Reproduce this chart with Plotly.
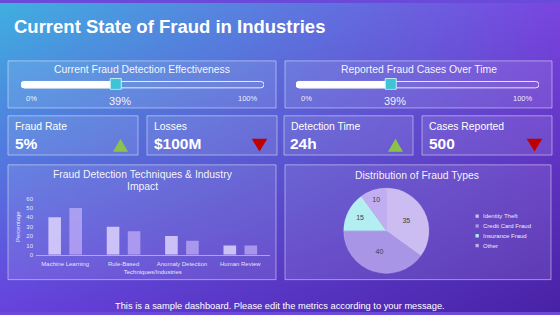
import numpy as np
import plotly.graph_objects as go
import zlib, struct, base64

W, H = 560, 315
FONT = "Liberation Sans, Arial, sans-serif"

# ---------------- data ----------------
title_text = "Current State of Fraud in Industries"
slider_titles = ["Current Fraud Detection Effectiveness", "Reported Fraud Cases Over Time"]
slider_values = [39, 39]
slider_min_label = "0%"
slider_max_label = "100%"
kpi_labels = ["Fraud Rate", "Losses", "Detection Time", "Cases Reported"]
kpi_values = ["5%", "$100M", "24h", "500"]
kpi_trends = ["up", "down", "up", "down"]
bar_title_lines = ["Fraud Detection Techniques & Industry", "Impact"]
bar_categories = ["Machine Learning", "Rule-Based", "Anomaly Detection", "Human Review"]
bar_series_1 = [40, 30, 20, 10]
bar_series_2 = [50, 25, 15, 10]
bar_yticks = [0, 10, 20, 30, 40, 50, 60]
bar_ytitle = "Percentage"
bar_xtitle = "Techniques/Industries"
pie_title = "Distribution of Fraud Types"
pie_labels = ["Identity Theft", "Credit Card Fraud", "Insurance Fraud", "Other"]
pie_values = [35, 40, 15, 10]
footer_text = "This is a sample dashboard. Please edit the metrics according to your message."

# ---------------- styles ----------------
pie_colors = ["#cbbcf2", "#a995e6", "#b3eef2", "#c0aef0"]
bar_color_1 = "rgba(232,222,255,0.78)"
bar_color_2 = "rgba(215,195,255,0.58)"
panel_fill = "rgba(255,255,255,0.10)"
panel_line = "rgba(255,255,255,0.45)"
up_color = "#8BC34A"
down_color = "#C00000"


def px(x):
    return x / W


def py(y):
    return 1 - y / H


# ---------------- background gradient (png data uri) ----------------
def make_png(arr):
    h, w, _ = arr.shape
    raw = np.concatenate([np.zeros((h, 1), np.uint8), arr.reshape(h, w * 3)], axis=1).tobytes()

    def chunk(tag, data):
        return struct.pack(">I", len(data)) + tag + data + struct.pack(">I", zlib.crc32(tag + data) & 0xFFFFFFFF)

    png = b"\x89PNG\r\n\x1a\n" + chunk(b"IHDR", struct.pack(">IIBBBBB", w, h, 8, 2, 0, 0, 0))
    png += chunk(b"IDAT", zlib.compress(raw, 9)) + chunk(b"IEND", b"")
    return "data:image/png;base64," + base64.b64encode(png).decode()


TL = np.array([63, 176, 224.0])
TR = np.array([122, 70, 224.0])
BL = np.array([104, 66, 222.0])
BR = np.array([72, 34, 166.0])
u = np.linspace(0, 1, W)[None, :, None]
v = np.linspace(0, 1, H)[:, None, None]
img = (1 - u) * (1 - v) * TL + u * (1 - v) * TR + (1 - u) * v * BL + u * v * BR
bg_uri = make_png(np.clip(img, 0, 255).astype(np.uint8))

fig = go.Figure()
shapes = []
annotations = []


def text(t, x, y, size, color="white", xanchor="center", xref="paper", xshift=0):
    annotations.append(dict(text=t, x=x, y=y, xref=xref, yref="paper", xanchor=xanchor, yanchor="middle",
                            xshift=xshift, showarrow=False, font=dict(size=size, color=color)))


# ---------------- panels ----------------
panels = [
    (8, 59, 276, 107), (285, 59, 552, 107),
    (8, 115, 138, 155), (147, 115, 277, 155), (284, 115, 413, 155), (422, 115, 552, 155),
    (8, 165, 276, 282), (285, 165, 551, 282),
]
for x0, y0, x1, y1 in panels:
    shapes.append(dict(type="rect", xref="paper", yref="paper", x0=px(x0), x1=px(x1), y0=py(y1), y1=py(y0),
                       fillcolor=panel_fill, line=dict(color=panel_line, width=1), layer="below"))

text("<b>" + title_text + "</b>", px(12), py(23.5), 18.5, xanchor="left")

# ---------------- sliders ----------------
tracks = [(21, 264), (296, 539)]
panel_centers = [142, 418.5]
track_top, track_bot = 80, 86.5
for i, (tx0, tx1) in enumerate(tracks):
    xa = "xaxis%d" % (3 + i)
    ya = "yaxis%d" % (3 + i)
    xr = "x%d" % (3 + i)
    yr = "y%d" % (3 + i)
    fig.update_layout(**{
        xa: dict(domain=[px(tx0), px(tx1)], range=[0, 100], visible=False, anchor=yr, fixedrange=True),
        ya: dict(domain=[py(88.5), py(76.5)], range=[-1, 1], visible=False, anchor=xr, fixedrange=True),
    })
    k = 100.0 / (tx1 - tx0)
    r = (track_bot - track_top) / 2 * k
    yt, yb, yc = py(track_top), py(track_bot), py((track_top + track_bot) / 2)
    outline = (f"M {r},{yt} L {100 - r},{yt} Q 100,{yt} 100,{yc} Q 100,{yb} {100 - r},{yb} "
               f"L {r},{yb} Q 0,{yb} 0,{yc} Q 0,{yt} {r},{yt} Z")
    shapes.append(dict(type="path", xref=xr, yref="paper", path=outline,
                       fillcolor="rgba(255,255,255,0.04)", line=dict(color="rgba(255,255,255,0.85)", width=1),
                       layer="below"))
    val = slider_values[i]
    fill = (f"M {r},{yt} L {val},{yt} L {val},{yb} L {r},{yb} Q 0,{yb} 0,{yc} Q 0,{yt} {r},{yt} Z")
    shapes.append(dict(type="path", xref=xr, yref="paper", path=fill,
                       fillcolor="white", line=dict(color="white", width=1), layer="below"))
    fig.add_trace(go.Scatter(x=[val], y=[0], xaxis=xr, yaxis=yr, mode="markers", showlegend=False,
                             hoverinfo="skip",
                             marker=dict(symbol="square", size=11, color="#3fc3d6",
                                         line=dict(color="rgba(210,245,250,0.9)", width=1))))
    col = "rgba(255,255,255,0.92)"
    text(f"{val}%", val, py(99.5), 11, col, xref=xr, xshift=4)
    text(slider_min_label, 0, py(97), 7.5, col, xref=xr, xshift=10)
    text(slider_max_label, 100, py(97), 7.5, col, xref=xr, xshift=-16)
    text(slider_titles[i], px(panel_centers[i]), py(68), 10.4, "rgba(255,255,255,0.95)")

# ---------------- KPI boxes ----------------
kpi_boxes = panels[2:6]
for i, (x0, y0, x1, y1) in enumerate(kpi_boxes):
    text(kpi_labels[i], px(x0 + 5), py(125.7), 10.4, xanchor="left")
    text("<b>" + kpi_values[i] + "</b>", px(x0 + 4.5), py(143), 15.5, xanchor="left")
    cx = x1 - 17.5
    if kpi_trends[i] == "up":
        path = f"M {px(cx)},{py(138.3)} L {px(cx + 7.5)},{py(151.7)} L {px(cx - 7.5)},{py(151.7)} Z"
        col = up_color
    else:
        path = f"M {px(cx - 7.8)},{py(138.5)} L {px(cx + 7.8)},{py(138.5)} L {px(cx)},{py(151.5)} Z"
        col = down_color
    shapes.append(dict(type="path", xref="paper", yref="paper", path=path, fillcolor=col,
                       line=dict(width=0), layer="above"))

# ---------------- bar chart ----------------
fig.add_trace(go.Bar(x=bar_categories, y=bar_series_1, marker=dict(color=bar_color_1, line=dict(width=0)),
                     showlegend=False, xaxis="x", yaxis="y"))
fig.add_trace(go.Bar(x=bar_categories, y=bar_series_2, marker=dict(color=bar_color_2, line=dict(width=0)),
                     showlegend=False, xaxis="x", yaxis="y"))
tick_font = dict(size=6, color="rgba(255,255,255,0.85)")
fig.update_layout(
    barmode="group", bargap=0.28, bargroupgap=0.4,
    xaxis=dict(domain=[px(36), px(269.5)], showgrid=False, showline=True, linecolor="rgba(225,210,255,0.6)",
               linewidth=1, ticks="", tickfont=tick_font, fixedrange=True, zeroline=False,
               ticklabelstandoff=3,
               title=dict(text=bar_xtitle, font=tick_font, standoff=3)),
    yaxis=dict(domain=[py(256.7), py(199.3)], range=[0, 60], tickvals=bar_yticks, showgrid=False,
               showline=False, zeroline=False, ticks="", tickfont=tick_font, fixedrange=True,
               ticklabelstandoff=2,
               title=dict(text=bar_ytitle, font=tick_font, standoff=5)),
)
text(bar_title_lines[0], px(142.5), py(175), 10.4, "rgba(255,255,255,0.95)")
text(bar_title_lines[1], px(142.5), py(186.7), 10.4, "rgba(255,255,255,0.95)")

# ---------------- pie chart ----------------
pcx, pcy, pr = 386.3, 232.2, 43.5
fig.add_trace(go.Pie(labels=pie_labels, values=pie_values, sort=False, direction="clockwise", rotation=0,
                     marker=dict(colors=pie_colors, line=dict(color="rgba(255,255,255,0.25)", width=0.5)),
                     textinfo="value", textposition="inside", insidetextorientation="horizontal",
                     textfont=dict(size=7, color="#404040"), showlegend=False, hoverinfo="label+value",
                     domain=dict(x=[px(pcx - pr), px(pcx + pr)], y=[py(pcy + pr), py(pcy - pr)])))
text(pie_title, px(417), py(175.5), 10.4, "rgba(255,255,255,0.95)")
for i, lab in enumerate(pie_labels):
    yy = 217.3 + 10 * i
    shapes.append(dict(type="rect", xref="paper", yref="paper", x0=px(475.5), x1=px(478.8),
                       y0=py(yy + 1.7), y1=py(yy - 1.7), fillcolor=pie_colors[i], line=dict(width=0)))
    text(lab, px(480.5), py(yy), 6, "rgba(255,255,255,0.92)", xanchor="left")

# ---------------- footer ----------------
text(footer_text, px(280), py(308.5), 9.3)

fig.update_layout(
    width=W, height=H, autosize=False, margin=dict(l=0, r=0, t=0, b=0, pad=0),
    paper_bgcolor="#6a4ad8", plot_bgcolor="rgba(0,0,0,0)",
    font=dict(family=FONT, color="white"),
    images=[dict(source=bg_uri, xref="paper", yref="paper", x=0, y=1, sizex=1, sizey=1,
                 xanchor="left", yanchor="top", sizing="stretch", layer="below")],
    shapes=shapes, annotations=annotations, showlegend=False,
)

fig.write_html("out.html", config=dict(displayModeBar=False))
